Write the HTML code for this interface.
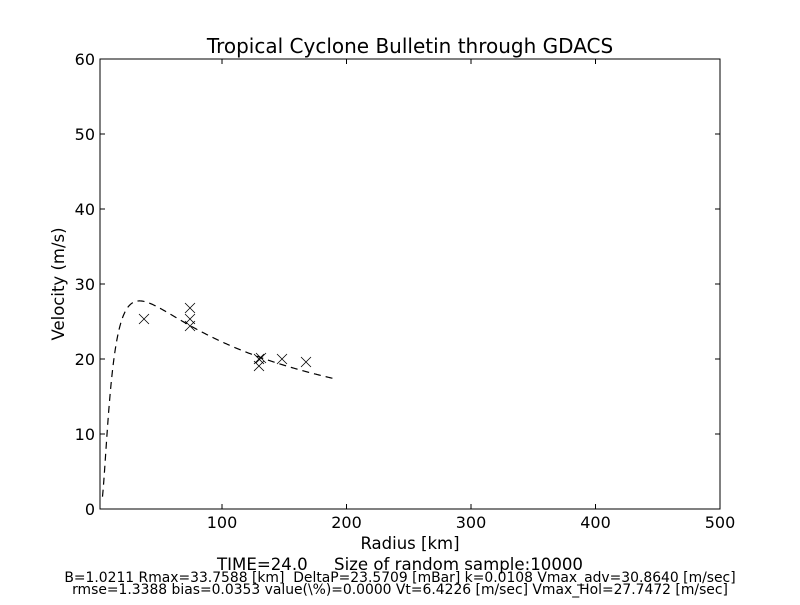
<!DOCTYPE html><html><head><style>body{margin:0;background:#fff}</style></head><body>
<svg id="s" width="800" height="600" xmlns="http://www.w3.org/2000/svg" font-family="DejaVu Sans, sans-serif">
<rect width="800" height="600" fill="#fff"/>
<text x="410" y="53" font-size="20" text-anchor="middle">Tropical Cyclone Bulletin through GDACS</text>
<g id="ax" stroke="#000" fill="none"></g>
<g id="lbl" font-size="16"></g>
<text x="410" y="549" font-size="16.5" text-anchor="middle">Radius [km]</text>
<text transform="translate(64,284) rotate(-90)" font-size="16.5" text-anchor="middle">Velocity (m/s)</text>
<text x="400" y="570" font-size="16.6" text-anchor="middle" xml:space="preserve">TIME=24.0     Size of random sample:10000</text>
<text x="400" y="582" font-size="13.9" text-anchor="middle" xml:space="preserve">B=1.0211 Rmax=33.7588 [km]  DeltaP=23.5709 [mBar] k=0.0108 Vmax_adv=30.8640 [m/sec]</text>
<text x="400" y="594" font-size="13.9" text-anchor="middle" xml:space="preserve">rmse=1.3388 bias=0.0353 value(\%)=0.0000 Vt=6.4226 [m/sec] Vmax_Hol=27.7472 [m/sec]</text>
</svg>
<script>
var ns="http://www.w3.org/2000/svg",s=document.getElementById('s'),ax=document.getElementById('ax'),lb=document.getElementById('lbl');
function X(v){return 100+(v-2)*620/498}function Y(v){return 509-v*7.5}
function el(p,t,a){var e=document.createElementNS(ns,t);for(var k in a)e.setAttribute(k,a[k]);p.appendChild(e);return e}
var d="",Rm=33.7588,B=1.0211,Vm=27.7472;
for(var r=4;r<=190;r+=0.5){var q=Math.pow(Rm/r,B);var v=Vm*Math.sqrt(q*Math.exp(1-q));d+=(d?"L":"M")+X(r).toFixed(2)+","+Y(v).toFixed(2)}
el(s,'path',{d:d,fill:'none',stroke:'#000','stroke-width':1.2,'stroke-dasharray':'7,5'});
[[144,319],[190,308],[190,319],[190,326],[259,359],[259,366],[261,358],[282,359],[306,362]].forEach(function(p){
el(s,'path',{d:'M'+(p[0]-5)+','+(p[1]-5)+'l10,10M'+(p[0]+5)+','+(p[1]-5)+'l-10,10',stroke:'#000','stroke-width':0.8,fill:'none'})});
el(ax,'rect',{x:100,y:59,width:620,height:450,'stroke-width':1});
[100,200,300,400,500].forEach(function(v){var x=X(v);el(ax,'path',{d:'M'+x+',509v-5M'+x+',59v5'});var t=el(lb,'text',{x:x,y:528,'text-anchor':'middle'});t.textContent=v});
for(var v=0;v<=60;v+=10){var y=Y(v);el(ax,'path',{d:'M100,'+y+'h5M720,'+y+'h-5'});var t=el(lb,'text',{x:95,y:y+6,'text-anchor':'end'});t.textContent=v}
</script></body></html>
